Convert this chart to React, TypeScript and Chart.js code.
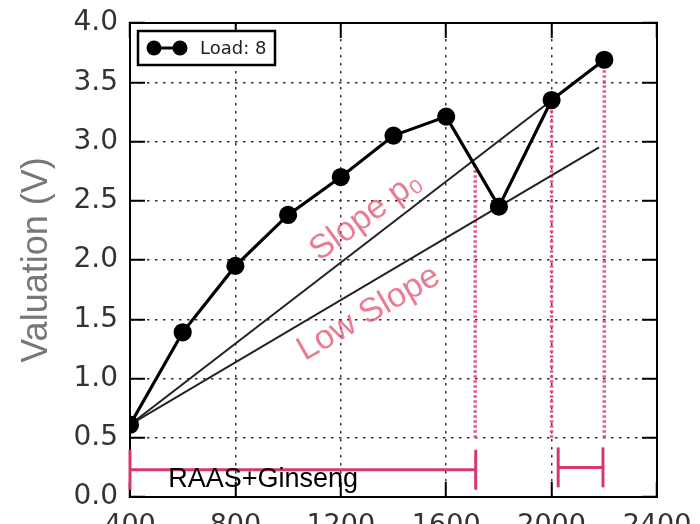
import React, { useEffect, useRef } from 'react';
import { Chart, registerables } from 'chart.js';

Chart.register(...registerables);

// ---- data ----
const loads = [400, 600, 800, 1000, 1200, 1400, 1600, 1800, 2000, 2200];
const valuation = [0.61, 1.39, 1.95, 2.38, 2.7, 3.05, 3.21, 2.45, 3.35, 3.69];

const slopeHighX = [400, 2200];
const slopeHighY = [0.61, 3.69];
const slopeLowX = [400, 2180];
const slopeLowY = [0.61, 2.95];

const markerX = [1710, 2000, 2200];
const markerTop = [2.8, 3.35, 3.69];
const markerBottom = [0.5, 0.5, 0.5];

const bracketStart = [400, 2025];
const bracketEnd = [1712, 2195];
const bracketY = [0.23, 0.25];

const xTicks = [400, 800, 1200, 1600, 2000, 2400];
const yTicks = [0, 0.5, 1, 1.5, 2, 2.5, 3, 3.5, 4];

const seriesLabel = 'Load: 8';
const yAxisTitle = 'Valuation (V)';
const groupLabel = 'RAAS+Ginseng';
const slopeHighLabel = 'Slope p\u2080';
const slopeLowLabel = 'Low Slope';

// ---- styles ----
const PINK_DOT = 'rgba(228, 70, 125, 0.9)';
const PINK = '#d8396d';
const TEXT_PINK = 'rgba(226, 74, 104, 0.72)';

const pts = (xs: number[], ys: number[]) => xs.map((x, i) => ({ x, y: ys[i] }));

const gridOpts = {
  color: '#333',
  lineWidth: 1.5,
  tickLength: -15,
  tickColor: '#000',
  tickWidth: 2,
  tickBorderDash: [] as number[],
};
const borderOpts = { display: true, color: '#000', width: 2, dash: [2.5, 5.5] };

const fixFit = (prop: 'width' | 'height', size: number) => (s: any) => {
  s[prop] = size;
  s.paddingLeft = 0;
  s.paddingRight = 0;
  s.paddingTop = 0;
  s.paddingBottom = 0;
};

const decorPlugin = {
  id: 'decor',
  afterDatasetsDraw(chart: any) {
    const { ctx } = chart;
    const x = chart.scales.x;
    const y = chart.scales.y;
    ctx.save();
    ctx.fillStyle = '#000';
    ctx.font = '27px "Liberation Sans"';
    ctx.textAlign = 'left';
    ctx.textBaseline = 'alphabetic';
    ctx.fillText(groupLabel, x.getPixelForValue(545), y.getPixelForValue(0.085));

    const rot = (text: string, vx: number, vy: number, deg: number) => {
      ctx.save();
      ctx.translate(x.getPixelForValue(vx), y.getPixelForValue(vy));
      ctx.rotate((deg * Math.PI) / 180);
      ctx.fillStyle = TEXT_PINK;
      ctx.font = '34px "Liberation Sans"';
      ctx.textAlign = 'center';
      ctx.textBaseline = 'middle';
      ctx.fillText(text, 0, 0);
      ctx.restore();
    };
    rot(slopeHighLabel, 1296, 2.37, -36);
    rot(slopeLowLabel, 1306, 1.55, -30);
    ctx.restore();
  },
  afterDraw(chart: any) {
    const { ctx, chartArea } = chart;
    const l = chartArea.left + 8;
    const t = chartArea.top + 8;
    const w = 137;
    const h = 34;
    ctx.save();
    ctx.fillStyle = '#fff';
    ctx.fillRect(l, t, w, h);
    ctx.strokeStyle = '#000';
    ctx.lineWidth = 2.5;
    ctx.strokeRect(l, t, w, h);
    const cy = t + h / 2;
    ctx.beginPath();
    ctx.moveTo(l + 16, cy);
    ctx.lineTo(l + 42, cy);
    ctx.lineWidth = 3;
    ctx.stroke();
    ctx.fillStyle = '#000';
    [l + 16, l + 42].forEach((cx) => {
      ctx.beginPath();
      ctx.arc(cx, cy, 7.5, 0, Math.PI * 2);
      ctx.fill();
    });
    ctx.fillStyle = '#222';
    ctx.font = '18px "DejaVu Sans"';
    ctx.textAlign = 'left';
    ctx.textBaseline = 'middle';
    ctx.fillText(seriesLabel, l + 62, cy + 1);
    ctx.restore();
  },
};

export default function App() {
  const ref = useRef<HTMLCanvasElement | null>(null);

  useEffect(() => {
    if (!ref.current) return;
    const common = { xAxisID: 'x', yAxisID: 'y' };
    const datasets: any[] = [
      {
        ...common,
        label: seriesLabel,
        data: pts(loads, valuation),
        borderColor: '#000',
        backgroundColor: '#000',
        borderWidth: 3.2,
        pointRadius: 7.5,
        pointBackgroundColor: '#000',
        pointBorderColor: '#000',
      },
      {
        ...common,
        label: 'slope-high',
        data: pts(slopeHighX, slopeHighY),
        borderColor: '#222',
        borderWidth: 2,
        pointRadius: 0,
      },
      {
        ...common,
        label: 'slope-low',
        data: pts(slopeLowX, slopeLowY),
        borderColor: '#222',
        borderWidth: 2,
        pointRadius: 0,
      },
      ...markerX.map((mx, i) => ({
        ...common,
        label: 'marker-' + i,
        data: [
          { x: mx, y: markerBottom[i] },
          { x: mx, y: markerTop[i] },
        ],
        borderColor: PINK_DOT,
        borderWidth: 3.5,
        borderDash: [2.5, 2.5],
        pointRadius: 0,
      })),
      ...bracketStart.map((bx, i) => ({
        ...common,
        label: 'bracket-' + i,
        data: [
          { x: bx, y: bracketY[i] },
          { x: bracketEnd[i], y: bracketY[i] },
        ],
        borderColor: PINK,
        borderWidth: 3,
        pointStyle: 'line',
        pointRotation: 90,
        pointRadius: 20,
        pointBorderWidth: 3,
        pointBorderColor: PINK,
        clip: false,
      })),
    ];

    const chart = new Chart(ref.current, {
      type: 'line',
      data: { datasets },
      options: {
        animation: false,
        responsive: false,
        devicePixelRatio: 1,
        layout: { padding: 0 },
        plugins: { legend: { display: false }, tooltip: { enabled: false } },
        scales: {
          x: {
            type: 'linear',
            position: 'bottom',
            min: 400,
            max: 2400,
            afterBuildTicks: (s: any) => {
              s.ticks = xTicks.map((v) => ({ value: v }));
            },
            afterFit: fixFit('height', 27),
            ticks: {
              color: '#333',
              font: { family: 'DejaVu Sans', size: 27 },
              padding: 28,
              maxRotation: 0,
              autoSkip: false,
              callback: (v: any) => String(v),
            },
            grid: gridOpts,
            border: borderOpts,
          },
          x2: {
            type: 'linear',
            position: 'top',
            display: true,
            min: 400,
            max: 2400,
            afterBuildTicks: (s: any) => {
              s.ticks = xTicks.map((v) => ({ value: v }));
            },
            afterFit: fixFit('height', 20),
            ticks: { display: false },
            grid: { ...gridOpts, drawOnChartArea: false },
            border: borderOpts,
          },
          y: {
            type: 'linear',
            position: 'left',
            min: 0,
            max: 4,
            afterBuildTicks: (s: any) => {
              s.ticks = yTicks.map((v) => ({ value: v }));
            },
            afterFit: fixFit('width', 130),
            ticks: {
              color: '#333',
              font: { family: 'DejaVu Sans', size: 28 },
              padding: 27,
              callback: (v: any) => Number(v).toFixed(1),
            },
            grid: gridOpts,
            border: borderOpts,
            title: {
              display: true,
              text: yAxisTitle,
              color: '#777',
              font: { family: 'Liberation Sans', size: 36 },
              padding: { top: 15, bottom: 0 },
            },
          },
          y2: {
            type: 'linear',
            position: 'right',
            display: true,
            min: 0,
            max: 4,
            afterBuildTicks: (s: any) => {
              s.ticks = yTicks.map((v) => ({ value: v }));
            },
            afterFit: fixFit('width', 43),
            ticks: { display: false },
            grid: { ...gridOpts, drawOnChartArea: false },
            border: borderOpts,
          },
        },
      },
      plugins: [decorPlugin],
    });
    return () => chart.destroy();
  }, []);

  return (
    <div style={{ position: 'absolute', left: 0, top: 0, width: 700, height: 524, background: '#fff' }}>
      <canvas ref={ref} width={700} height={524} style={{ display: 'block' }} />
    </div>
  );
}
